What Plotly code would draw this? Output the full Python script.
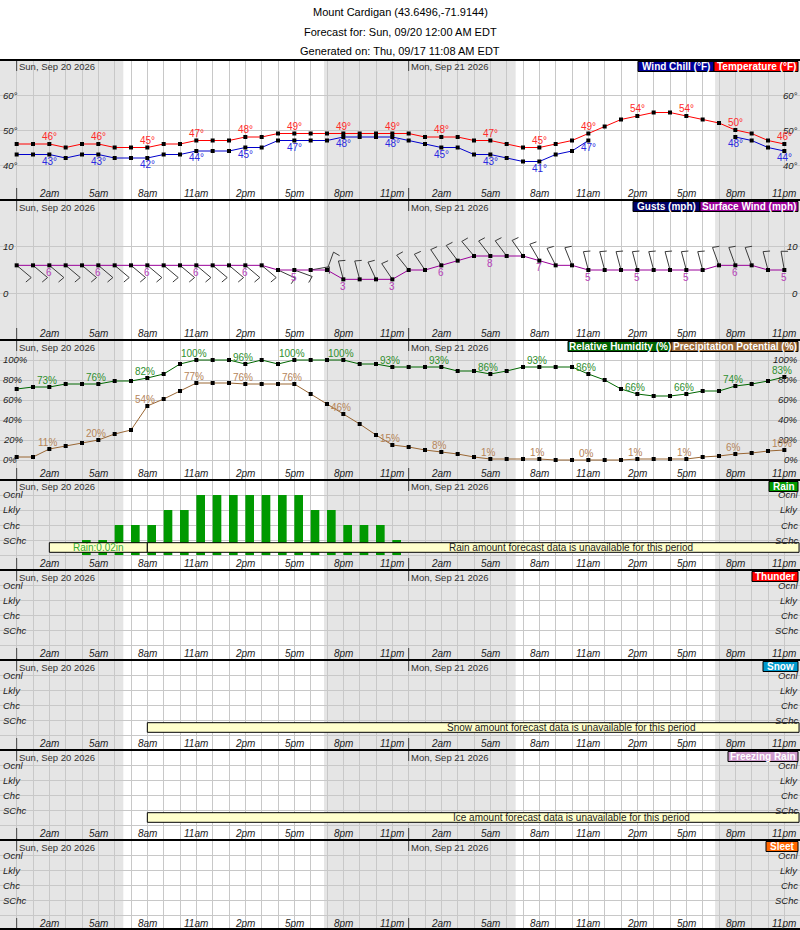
import math
import plotly.graph_objects as go
from plotly.subplots import make_subplots

# ---------------- data ----------------
hours = list(range(48))
temperature = [46, 46, 46, 45, 46, 46, 45, 45, 45, 46, 46, 47, 47, 47, 48, 48, 49, 49, 49, 49, 49, 49, 49, 49,
               49, 48, 48, 48, 47, 47, 46, 45, 45, 46, 47, 49, 51, 53, 54, 55, 55, 54, 53, 52, 50, 49, 47, 46]
wind_chill = [43, 43, 43, 42, 43, 43, 42, 42, 42, 43, 43, 44, 44, 44, 45, 45, 47, 47, 47, 47, 48, 48, 48, 48,
              47, 46, 45, 45, 43, 43, 42, 41, 41, 43, 44, 47, None, None, None, None, None, None, None, None,
              48, 47, 45, 44]
surface_wind = [6, 6, 6, 6, 6, 6, 6, 6, 6, 6, 6, 6, 6, 6, 6, 6, 5, 5, 5, 5, 3, 3, 3, 3,
                5, 5, 6, 7, 8, 8, 8, 8, 7, 6, 6, 5, 5, 5, 5, 5, 5, 5, 5, 6, 6, 6, 5, 5]
wind_dir = [130, 130, 130, 130, 130, 130, 130, 130, 130, 130, 130, 130, 130, 130, 130, 130,
            115, 110, 80, 20, 345, 345, 335, 326,
            321, 326, 326, 323, 320, 322, 323, 325, 330, 333, 338, 345, 345, 345, 345, 345, 345, 345, 345,
            340, 340, 340, 345, 350]
rel_humidity = [71, 73, 73, 76, 76, 76, 79, 79, 82, 86, 96, 100, 100, 100, 96, 100, 96, 100, 100, 100, 100, 96, 96, 93,
                93, 93, 93, 89, 89, 86, 89, 93, 93, 93, 93, 86, 80, 71, 66, 64, 64, 66, 69, 69, 74, 76, 79, 83]
precip_potential = [3, 3, 11, 14, 17, 20, 26, 30, 54, 61, 69, 77, 77, 77, 76, 76, 76, 76, 66, 56, 46, 36, 25, 15,
                    13, 10, 8, 6, 3, 1, 1, 1, 1, 0, 0, 0, 0, 0, 1, 1, 1, 1, 3, 4, 6, 7, 9, 10]
# 0 none, 1 SChc, 2 Chc, 3 Lkly, 4 Ocnl
rain_chance = [0, 0, 0, 0, 1, 1, 2, 2, 2, 3, 3, 4, 4, 4, 4, 4, 4, 4, 3, 3, 2, 2, 2, 1,
               0, 0, 0, 0, 0, 0, 0, 0, 0, 0, 0, 0, 0, 0, 0, 0, 0, 0, 0, 0, 0, 0, 0, 0]
level_names = ["SChc", "Chc", "Lkly", "Ocnl"]
level_values = [1, 2, 3, 4]

hour_label_pos = list(range(2, 48, 3))
hour_labels = ["2am", "5am", "8am", "11am", "2pm", "5pm", "8pm", "11pm",
               "2am", "5am", "8am", "11am", "2pm", "5pm", "8pm", "11pm"]
day_starts = [0, 24]
day_labels = ["Sun, Sep 20 2026", "Mon, Sep 21 2026"]
night_start = [-1.1, 18.82, 42.76]
night_end = [6.53, 30.55, 48.2]

temp_ticks = [40, 50, 60]
wind_ticks = [0, 10]
rh_ticks = [0, 20, 40, 60, 80, 100]

rain_amount_span = [2, 8]
rain_amount_text = "Rain:0.02in"
unavail_span = [8, 60]
unavail_texts = {4: "Rain amount forecast data is unavailable for this period",
                 6: "Snow amount forecast data is unavailable for this period",
                 7: "Ice amount forecast data is unavailable for this period"}

title_lines = ["Mount Cardigan (43.6496,-71.9144)",
               "Forecast for: Sun, 09/20 12:00 AM EDT",
               "Generated on: Thu, 09/17 11:08 AM EDT"]

# ---------------- layout geometry ----------------
W, H = 800, 930
TOP = 60
tops = [60, 200, 340, 480, 570, 660, 750, 840]
heights = [140, 140, 140, 90, 90, 90, 90, 90]
XR = [-1.0204, 47.959]
yranges = [[30, 70], [-10, 20], [-20, 120]] + [[-1, 5]] * 5
FONT = "Liberation Sans, Arial, sans-serif"
GRID = "#c8c8c8"
SHADE = "#e5e5e5"


def py2p(py):
    return (H - py) / (H - TOP)


def px2p(px):
    return px / W


fig = make_subplots(rows=8, cols=1, shared_xaxes=True, vertical_spacing=0,
                    row_heights=heights)

xrefs = ["x" if i == 0 else f"x{i+1}" for i in range(8)]
yrefs = ["y" if i == 0 else f"y{i+1}" for i in range(8)]

# ---------------- traces ----------------
mk = dict(symbol="square", size=4, color="black", line=dict(width=0))
fig.add_trace(go.Scatter(x=hours, y=temperature, mode="lines+markers",
                         line=dict(color="#ff0000", width=1), marker=mk), row=1, col=1)
fig.add_trace(go.Scatter(x=hours, y=wind_chill, mode="lines+markers",
                         line=dict(color="#0000cc", width=1), marker=mk), row=1, col=1)

# wind barbs (computed in data units from the wind panel's scale)
pxh = W / (XR[1] - XR[0])
pyw = heights[1] / (yranges[1][1] - yranges[1][0])
bx, by = [], []
L, B = 19, 7
for h, s, d in zip(hours, surface_wind, wind_dir):
    a = math.radians(d)
    xt = h + L * math.sin(a) / pxh
    yt = s + L * math.cos(a) / pyw
    a2 = math.radians(d + 100)
    xb = xt + B * math.sin(a2) / pxh
    yb = yt + B * math.cos(a2) / pyw
    bx += [h, xt, xb, None]
    by += [s, yt, yb, None]
fig.add_trace(go.Scatter(x=bx, y=by, mode="lines", line=dict(color="#3a3a3a", width=1),
                         hoverinfo="skip"), row=2, col=1)
fig.add_trace(go.Scatter(x=hours, y=surface_wind, mode="lines+markers",
                         line=dict(color="#990099", width=1), marker=mk), row=2, col=1)

fig.add_trace(go.Scatter(x=hours, y=precip_potential, mode="lines+markers",
                         line=dict(color="#996633", width=1), marker=mk), row=3, col=1)
fig.add_trace(go.Scatter(x=hours, y=rel_humidity, mode="lines+markers",
                         line=dict(color="#006600", width=1), marker=mk), row=3, col=1)

fig.add_trace(go.Bar(x=hours, y=rain_chance, width=0.53, offset=0,
                     marker=dict(color="#009900", line=dict(width=0))), row=4, col=1)

# ---------------- axes ----------------
fig.update_xaxes(range=XR, tickvals=list(range(-1, 48)), showticklabels=False, ticks="",
                 showgrid=True, gridcolor=GRID, gridwidth=1, zeroline=False, showline=False)
ytv = [temp_ticks, wind_ticks, rh_ticks] + [[0] + level_values] * 5
for i in range(8):
    fig.update_yaxes(range=yranges[i], tickvals=ytv[i], showticklabels=False, ticks="",
                     showgrid=True, gridcolor=GRID, gridwidth=1, zeroline=False, showline=False,
                     row=i + 1, col=1)

# ---------------- shapes & annotations ----------------
shapes = []
anns = []


def text(t, x, y, xref, yref, color="#222222", size=10, xanchor="center", yanchor="middle",
         italic=False, bold=False, yshift=0, xshift=0):
    f = dict(family=FONT, size=size, color=color)
    if italic:
        f["style"] = "italic"
    if bold:
        f["weight"] = "bold"
    anns.append(dict(text=t, x=x, y=y, xref=xref, yref=yref, showarrow=False, font=f,
                     xanchor=xanchor, yanchor=yanchor, yshift=yshift, xshift=xshift,
                     borderpad=0))


# night shading
for a, b in zip(night_start, night_end):
    shapes.append(dict(type="rect", xref="x", yref="paper", x0=a, x1=b, y0=0, y1=1,
                       fillcolor=SHADE, line=dict(width=0), layer="below"))

for i in range(8):
    top, bot = tops[i], tops[i] + heights[i]
    # hour labels
    for h, lb in zip(hour_label_pos, hour_labels):
        text(lb, h, py2p(bot - 6.5), xrefs[i], "paper", italic=True, size=10)
    # day markers + labels
    for d, lb in zip(day_starts, day_labels):
        shapes.append(dict(type="line", xref=xrefs[i], yref="paper", x0=d, x1=d,
                           y0=py2p(top), y1=py2p(top + 11), line=dict(color="#444444", width=1)))
        shapes.append(dict(type="line", xref=xrefs[i], yref="paper", x0=d, x1=d,
                           y0=py2p(bot - 12), y1=py2p(bot), line=dict(color="#444444", width=1)))
        text(lb, d, py2p(top + 7), xrefs[i], "paper", color="#333333", size=9.5,
             xanchor="left", xshift=1.5)

# y labels
def ylabels(i, vals, fmt):
    for v in vals:
        text(fmt(v), px2p(1.5), v, "paper", yrefs[i], italic=True, size=9.5, xanchor="left")
        text(fmt(v), px2p(798.5), v, "paper", yrefs[i], italic=True, size=9.5, xanchor="right")


ylabels(0, temp_ticks, lambda v: f"{v}°")
ylabels(1, wind_ticks, lambda v: f"{v}")
ylabels(2, rh_ticks, lambda v: f"{v}%")
for i in range(3, 8):
    for v, nm in zip(level_values, level_names):
        text(nm, px2p(1.5), v, "paper", yrefs[i], italic=True, size=9.5, xanchor="left")
        text(nm, px2p(798.5), v, "paper", yrefs[i], italic=True, size=9.5, xanchor="right")

# data labels
for h in hour_label_pos:
    text(f"{temperature[h]}°", h, temperature[h], "x", "y", color="#ff2a2a", yshift=7.5)
    if wind_chill[h] is not None:
        text(f"{wind_chill[h]}°", h, wind_chill[h], "x", "y", color="#2a2ae0", yshift=-6.5)
    text(f"{surface_wind[h]}", h, surface_wind[h], "x2", "y2", color="#b63cb6", yshift=-7)
    text(f"{rel_humidity[h]}%", h, rel_humidity[h], "x3", "y3", color="#2f8f2f", yshift=6, xshift=-2)
    text(f"{precip_potential[h]}%", h, precip_potential[h], "x3", "y3", color="#b5855a", yshift=6, xshift=-2)

# amount boxes
BOX_Y = [0.18, 0.82]
shapes.append(dict(type="rect", xref="x4", yref="y4", x0=rain_amount_span[0], x1=rain_amount_span[1],
                   y0=BOX_Y[0], y1=BOX_Y[1], fillcolor="#ffffcc", line=dict(color="black", width=1),
                   layer="above"))
text(rain_amount_text, sum(rain_amount_span) / 2, 0.5, "x4", "y4", color="#33aa33", size=10)
for row, t in unavail_texts.items():
    shapes.append(dict(type="rect", xref=xrefs[row - 1], yref=yrefs[row - 1], x0=unavail_span[0],
                       x1=min(unavail_span[1], 47.9), y0=BOX_Y[0], y1=BOX_Y[1], fillcolor="#ffffcc",
                       line=dict(color="black", width=1), layer="above"))
    text(t, sum(unavail_span) / 2 - 0.05, 0.5, xrefs[row - 1], yrefs[row - 1], color="#222222", size=10)

# legend boxes
legends = [
    (0, [("Wind Chill (°F)", "#000099", 638, 714), ("Temperature (°F)", "#ff0000", 714, 798)]),
    (1, [("Gusts (mph)", "#000066", 633, 700), ("Surface Wind (mph)", "#990099", 700, 798)]),
    (2, [("Relative Humidity (%)", "#006600", 568, 671), ("Precipitation Potential (%)", "#996633", 671, 798)]),
    (3, [("Rain", "#009900", 769, 798)]),
    (4, [("Thunder", "#ff0000", 752, 798)]),
    (5, [("Snow", "#0099cc", 763, 798)]),
    (6, [("Freezing Rain", "#cc99cc", 728, 798)]),
    (7, [("Sleet", "#ff6600", 766, 798)]),
]
for i, items in legends:
    top = tops[i]
    for lb, col, x0, x1 in items:
        shapes.append(dict(type="rect", xref="paper", yref="paper", x0=px2p(x0), x1=px2p(x1),
                           y0=py2p(top + 11.5), y1=py2p(top + 1.5), fillcolor=col,
                           line=dict(color="black", width=1), layer="above"))
        text(lb, px2p((x0 + x1) / 2), py2p(top + 6.7), "paper", "paper", color="white", size=10,
             bold=True)

# panel borders
for py in tops + [929]:
    shapes.append(dict(type="line", xref="paper", yref="paper", x0=0, x1=1, y0=py2p(py), y1=py2p(py),
                       line=dict(color="black", width=2), layer="above"))

# title
for t, py in zip(title_lines, [12, 31.5, 50.5]):
    text(t, 0.5, py2p(py), "paper", "paper", color="black", size=11)

fig.update_layout(width=W, height=H, margin=dict(l=0, r=0, t=TOP, b=0, pad=0),
                  paper_bgcolor="white", plot_bgcolor="rgba(0,0,0,0)", showlegend=False,
                  barmode="overlay", shapes=shapes, annotations=anns, hovermode=False)

fig.write_html("out.html", config={"displayModeBar": False, "staticPlot": True},
               post_script="document.body.style.margin='0';document.body.style.padding='0';"
                           "document.body.style.overflow='hidden';")
